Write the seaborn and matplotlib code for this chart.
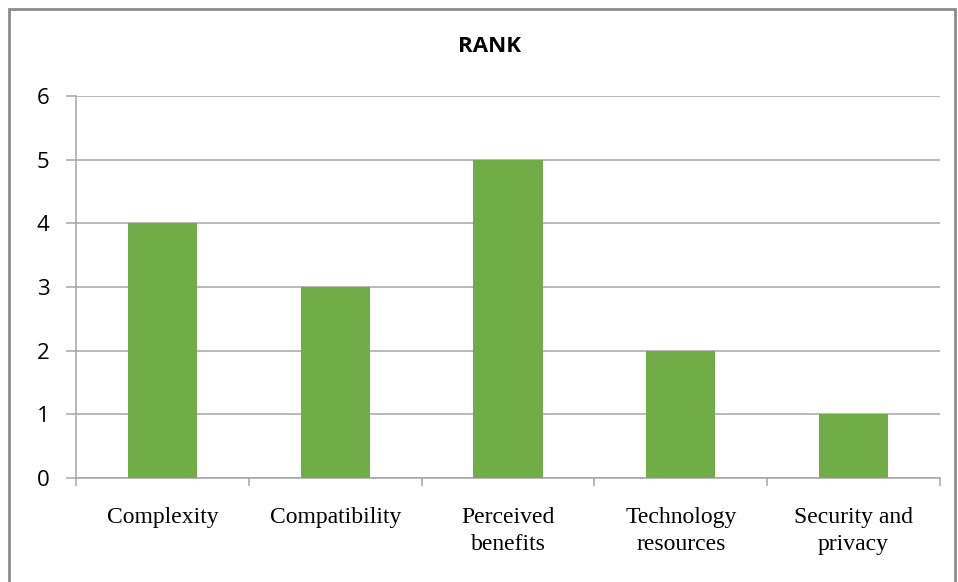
import numpy as np
import pandas as pd
import matplotlib
matplotlib.use('Agg')
import matplotlib.pyplot as plt
import seaborn as sns
from matplotlib.patches import Rectangle

# data
categories = ['Complexity', 'Compatibility', 'Perceived\nbenefits',
              'Technology\nresources', 'Security and\nprivacy']
rank = [4, 3, 5, 2, 1]
y_ticks = [0, 1, 2, 3, 4, 5, 6]

df = pd.DataFrame({'factor': categories, 'rank': rank})

sns.set_style('white')
plt.rcParams['font.family'] = ['Open Sans', 'DejaVu Sans']

fig = plt.figure(figsize=(9.58, 5.82), dpi=100)
ax = fig.add_axes([76 / 958, 1 - 478 / 582, (940 - 76) / 958, (478 - 96) / 582])

grid_c = '#A6A6A6'
sns.barplot(data=df, x='factor', y='rank', color='#70AD47', width=0.4,
            saturation=1, edgecolor='none', linewidth=0, ax=ax, zorder=3)

ax.set_xlim(-0.5, len(categories) - 0.5)
ax.set_ylim(0, 6)
ax.set_yticks(y_ticks)
ax.set_yticklabels([str(t) for t in y_ticks], fontsize=16)
ax.yaxis.grid(True, color=grid_c, linewidth=1.1, zorder=0)
ax.set_axisbelow(True)

# category labels in serif, tick marks between categories
ax.set_xticks(range(len(categories)))
ax.set_xticklabels(categories, fontsize=17, family='Liberation Serif',
                   linespacing=1.35, va='top')
ax.tick_params(axis='x', which='major', length=0, pad=21, labelcolor='black')
ax.set_xticks(np.arange(-0.5, len(categories)), minor=True)
ax.tick_params(axis='x', which='minor', bottom=True, length=6,
               color=grid_c, width=1.1)
ax.tick_params(axis='y', left=True, length=7, color=grid_c, width=1.1,
               pad=12, labelcolor='black')

for side in ['top', 'right']:
    ax.spines[side].set_visible(False)
for side in ['left', 'bottom']:
    ax.spines[side].set_color(grid_c)
    ax.spines[side].set_linewidth(1.1)

ax.set_xlabel('')
ax.set_ylabel('')
fig.text(490 / 958, 1 - 47 / 582, 'RANK', ha='center',
         va='center', fontsize=16, fontweight='bold', color='black')

# outer chart border
fig.patches.append(Rectangle((9 / 958, -0.01), (955 - 9) / 958, 1 - 9 / 582 + 0.01,
                             transform=fig.transFigure, fill=False,
                             edgecolor='#8C8C8C', linewidth=2))

fig.savefig('out.png', dpi=100)
